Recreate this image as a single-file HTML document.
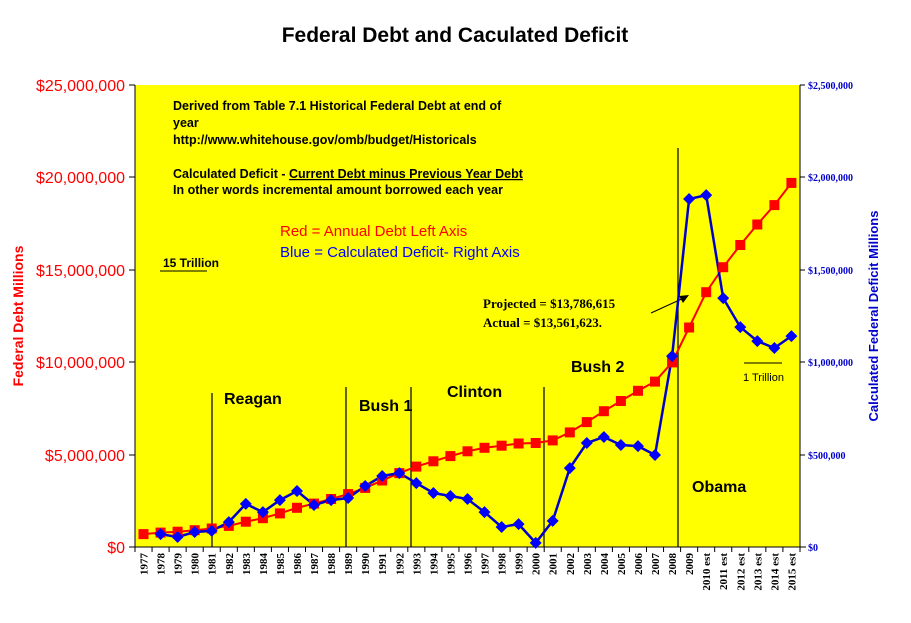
<!DOCTYPE html><html><head><meta charset="utf-8"><style>body{margin:0;background:#fff}svg{display:block}</style></head><body>
<svg width="911" height="623" xmlns="http://www.w3.org/2000/svg" xmlns:xlink="http://www.w3.org/1999/xlink" font-family="Liberation Sans, sans-serif">
<defs>
<rect id="sq" x="-5" y="-5" width="10" height="10" fill="#ff0000"/>
<polygon id="dm" points="0,-6 6,0 0,6 -6,0" fill="#0000ff"/>
</defs>
<rect width="911" height="623" fill="#fff"/>
<text x="455" y="42" text-anchor="middle" font-size="21" font-weight="bold">Federal Debt and Caculated Deficit</text>
<rect x="135" y="85" width="665" height="462" fill="#ffff00"/>
<g font-weight="bold" font-size="12.5" fill="#000">
<text x="173" y="110">Derived from Table 7.1 Historical Federal Debt at end of</text>
<text x="173" y="127">year</text>
<text x="173" y="144">http://www.whitehouse.gov/omb/budget/Historicals</text>
<text x="173" y="178">Calculated Deficit - <tspan text-decoration="underline">Current Debt minus Previous Year Debt</tspan></text>
</g>
<svg x="160" y="182" width="400" height="13"><text x="13" y="12" font-weight="bold" font-size="12.5">In other words incremental amount borrowed each year</text></svg>
<text x="280" y="236" font-size="15" fill="#ff0000">Red = Annual Debt Left Axis</text>
<text x="280" y="257" font-size="15" fill="#0000ff">Blue = Calculated Deficit- Right Axis</text>
<text x="163" y="267" font-size="12" font-weight="bold">15 Trillion</text>
<line x1="160" y1="271" x2="207" y2="271" stroke="#000"/>
<g font-family="Liberation Serif, serif" font-weight="bold" font-size="13"><text x="483" y="308">Projected = $13,786,615</text><text x="483" y="327">Actual = $13,561,623.</text></g>
<line x1="651" y1="313" x2="686" y2="297" stroke="#000"/><polygon points="689,295 679,296 683,303" fill="#000"/>
<line x1="744" y1="363" x2="782" y2="363" stroke="#000"/>
<text x="743" y="381" font-size="11">1 Trillion</text>
<g stroke="#000" stroke-width="1.2"><line x1="212" y1="393" x2="212" y2="547"/><line x1="346" y1="387" x2="346" y2="547"/><line x1="411" y1="387" x2="411" y2="547"/><line x1="544" y1="387" x2="544" y2="547"/><line x1="678" y1="148" x2="678" y2="547"/></g>
<g font-size="16" font-weight="bold"><text x="224" y="404">Reagan</text><text x="359" y="411">Bush 1</text><text x="447" y="397">Clinton</text><text x="571" y="372">Bush 2</text><text x="692" y="492">Obama</text></g>
<g stroke="#000"><line x1="135" y1="85" x2="135" y2="547"/><line x1="800" y1="85" x2="800" y2="547"/><line x1="129" y1="547" x2="806" y2="547"/>
<line x1="129" y1="85" x2="135" y2="85"/><line x1="129" y1="177" x2="135" y2="177"/><line x1="129" y1="270" x2="135" y2="270"/><line x1="129" y1="362" x2="135" y2="362"/><line x1="129" y1="455" x2="135" y2="455"/>
<line x1="800" y1="85" x2="805" y2="85"/><line x1="800" y1="177" x2="805" y2="177"/><line x1="800" y1="270" x2="805" y2="270"/><line x1="800" y1="362" x2="805" y2="362"/><line x1="800" y1="455" x2="805" y2="455"/></g>
<g font-size="16" fill="#ff0000" text-anchor="end"><text x="125" y="91">$25,000,000</text><text x="125" y="183">$20,000,000</text><text x="125" y="276">$15,000,000</text><text x="125" y="368">$10,000,000</text><text x="125" y="461">$5,000,000</text><text x="125" y="553">$0</text></g>
<g font-size="10" fill="#0000cc" font-family="Liberation Serif, serif" font-weight="bold"><text x="808" y="89">$2,500,000</text><text x="808" y="181">$2,000,000</text><text x="808" y="274">$1,500,000</text><text x="808" y="366">$1,000,000</text><text x="808" y="459">$500,000</text><text x="808" y="551">$0</text></g>
<text transform="translate(23,316) rotate(-90)" text-anchor="middle" font-size="14" font-weight="bold" fill="#ff0000">Federal Debt Millions</text>
<text transform="translate(878,316) rotate(-90)" text-anchor="middle" font-size="13" font-weight="bold" fill="#0000cc">Calculated Federal Deficit Millions</text>

<polyline fill="none" stroke="#ff0000" stroke-width="2" points="143.5,534.1 160.6,532.6 177.6,531.7 194.7,530.2 211.7,528.5 228.8,525.9 245.8,521.7 262.9,518.2 279.9,513.4 297,507.8 314,503.6 331.1,499 348.1,494.1 365.2,487.9 382.2,480.5 399.3,473.1 416.3,466.6 433.4,461.3 450.4,456.1 467.5,451.3 484.5,447.8 501.6,445.7 518.6,443.5 535.7,443 552.7,440.4 569.8,432.4 586.8,422.1 603.9,411.2 620.9,401 638,390.8 655,381.6 672.1,362.4 689.1,327.5 706.2,292.2 723.2,267.2 740.3,245 757.3,224.5 774.4,205.1 791.4,182.9"/>
<polyline fill="none" stroke="#0000cc" stroke-width="2.5" points="160.6,534.1 177.6,537 194.7,532 211.7,530.9 228.8,522.1 245.8,503.9 262.9,512.1 279.9,500.1 297,491 314,505 331.1,500.1 348.1,498 365.2,486 382.2,476 399.3,473.1 416.3,483.1 433.4,493 450.4,496 467.5,499 484.5,512.1 501.6,527 518.6,524.1 535.7,542.9 552.7,520.9 569.8,468.1 586.8,443 603.9,437 620.9,445 638,446.1 655,455 672.1,356.1 689.1,199 706.2,195.1 723.2,298.1 740.3,327.1 757.3,341.1 774.4,348 791.4,336.1"/>
<g>
<use xlink:href="#sq" x="143.5" y="534.1"/><use xlink:href="#sq" x="160.6" y="532.6"/><use xlink:href="#sq" x="177.6" y="531.7"/><use xlink:href="#sq" x="194.7" y="530.2"/><use xlink:href="#sq" x="211.7" y="528.5"/><use xlink:href="#sq" x="228.8" y="525.9"/><use xlink:href="#sq" x="245.8" y="521.7"/><use xlink:href="#sq" x="262.9" y="518.2"/><use xlink:href="#sq" x="279.9" y="513.4"/><use xlink:href="#sq" x="297" y="507.8"/><use xlink:href="#sq" x="314" y="503.6"/><use xlink:href="#sq" x="331.1" y="499"/><use xlink:href="#sq" x="348.1" y="494.1"/><use xlink:href="#sq" x="365.2" y="487.9"/><use xlink:href="#sq" x="382.2" y="480.5"/><use xlink:href="#sq" x="399.3" y="473.1"/><use xlink:href="#sq" x="416.3" y="466.6"/><use xlink:href="#sq" x="433.4" y="461.3"/><use xlink:href="#sq" x="450.4" y="456.1"/><use xlink:href="#sq" x="467.5" y="451.3"/><use xlink:href="#sq" x="484.5" y="447.8"/><use xlink:href="#sq" x="501.6" y="445.7"/><use xlink:href="#sq" x="518.6" y="443.5"/><use xlink:href="#sq" x="535.7" y="443"/><use xlink:href="#sq" x="552.7" y="440.4"/><use xlink:href="#sq" x="569.8" y="432.4"/><use xlink:href="#sq" x="586.8" y="422.1"/><use xlink:href="#sq" x="603.9" y="411.2"/><use xlink:href="#sq" x="620.9" y="401"/><use xlink:href="#sq" x="638" y="390.8"/><use xlink:href="#sq" x="655" y="381.6"/><use xlink:href="#sq" x="672.1" y="362.4"/><use xlink:href="#sq" x="689.1" y="327.5"/><use xlink:href="#sq" x="706.2" y="292.2"/><use xlink:href="#sq" x="723.2" y="267.2"/><use xlink:href="#sq" x="740.3" y="245"/><use xlink:href="#sq" x="757.3" y="224.5"/><use xlink:href="#sq" x="774.4" y="205.1"/><use xlink:href="#sq" x="791.4" y="182.9"/>
</g>
<g>
<use xlink:href="#dm" x="160.6" y="534.1"/><use xlink:href="#dm" x="177.6" y="537"/><use xlink:href="#dm" x="194.7" y="532"/><use xlink:href="#dm" x="211.7" y="530.9"/><use xlink:href="#dm" x="228.8" y="522.1"/><use xlink:href="#dm" x="245.8" y="503.9"/><use xlink:href="#dm" x="262.9" y="512.1"/><use xlink:href="#dm" x="279.9" y="500.1"/><use xlink:href="#dm" x="297" y="491"/><use xlink:href="#dm" x="314" y="505"/><use xlink:href="#dm" x="331.1" y="500.1"/><use xlink:href="#dm" x="348.1" y="498"/><use xlink:href="#dm" x="365.2" y="486"/><use xlink:href="#dm" x="382.2" y="476"/><use xlink:href="#dm" x="399.3" y="473.1"/><use xlink:href="#dm" x="416.3" y="483.1"/><use xlink:href="#dm" x="433.4" y="493"/><use xlink:href="#dm" x="450.4" y="496"/><use xlink:href="#dm" x="467.5" y="499"/><use xlink:href="#dm" x="484.5" y="512.1"/><use xlink:href="#dm" x="501.6" y="527"/><use xlink:href="#dm" x="518.6" y="524.1"/><use xlink:href="#dm" x="535.7" y="542.9"/><use xlink:href="#dm" x="552.7" y="520.9"/><use xlink:href="#dm" x="569.8" y="468.1"/><use xlink:href="#dm" x="586.8" y="443"/><use xlink:href="#dm" x="603.9" y="437"/><use xlink:href="#dm" x="620.9" y="445"/><use xlink:href="#dm" x="638" y="446.1"/><use xlink:href="#dm" x="655" y="455"/><use xlink:href="#dm" x="672.1" y="356.1"/><use xlink:href="#dm" x="689.1" y="199"/><use xlink:href="#dm" x="706.2" y="195.1"/><use xlink:href="#dm" x="723.2" y="298.1"/><use xlink:href="#dm" x="740.3" y="327.1"/><use xlink:href="#dm" x="757.3" y="341.1"/><use xlink:href="#dm" x="774.4" y="348"/><use xlink:href="#dm" x="791.4" y="336.1"/>
</g>
<path stroke="#000" d="M135,547v5M152.05,547v5M169.1,547v5M186.15,547v5M203.2,547v5M220.25,547v5M237.3,547v5M254.35,547v5M271.4,547v5M288.45,547v5M305.5,547v5M322.55,547v5M339.6,547v5M356.65,547v5M373.7,547v5M390.75,547v5M407.8,547v5M424.85,547v5M441.9,547v5M458.95,547v5M476,547v5M493.05,547v5M510.1,547v5M527.15,547v5M544.2,547v5M561.25,547v5M578.3,547v5M595.35,547v5M612.4,547v5M629.45,547v5M646.5,547v5M663.55,547v5M680.6,547v5M697.65,547v5M714.7,547v5M731.75,547v5M748.8,547v5M765.85,547v5M782.9,547v5M800,547v5"/>
<g font-family="Liberation Serif, serif" font-weight="bold" font-size="11" text-anchor="end">
<text transform="translate(147.5,553) rotate(-90)">1977</text><text transform="translate(164.6,553) rotate(-90)">1978</text><text transform="translate(181.6,553) rotate(-90)">1979</text><text transform="translate(198.7,553) rotate(-90)">1980</text><text transform="translate(215.7,553) rotate(-90)">1981</text><text transform="translate(232.8,553) rotate(-90)">1982</text><text transform="translate(249.8,553) rotate(-90)">1983</text><text transform="translate(266.9,553) rotate(-90)">1984</text><text transform="translate(283.9,553) rotate(-90)">1985</text><text transform="translate(301,553) rotate(-90)">1986</text><text transform="translate(318,553) rotate(-90)">1987</text><text transform="translate(335.1,553) rotate(-90)">1988</text><text transform="translate(352.1,553) rotate(-90)">1989</text><text transform="translate(369.2,553) rotate(-90)">1990</text><text transform="translate(386.2,553) rotate(-90)">1991</text><text transform="translate(403.3,553) rotate(-90)">1992</text><text transform="translate(420.3,553) rotate(-90)">1993</text><text transform="translate(437.4,553) rotate(-90)">1994</text><text transform="translate(454.4,553) rotate(-90)">1995</text><text transform="translate(471.5,553) rotate(-90)">1996</text><text transform="translate(488.5,553) rotate(-90)">1997</text><text transform="translate(505.6,553) rotate(-90)">1998</text><text transform="translate(522.6,553) rotate(-90)">1999</text><text transform="translate(539.7,553) rotate(-90)">2000</text><text transform="translate(556.7,553) rotate(-90)">2001</text><text transform="translate(573.8,553) rotate(-90)">2002</text><text transform="translate(590.8,553) rotate(-90)">2003</text><text transform="translate(607.9,553) rotate(-90)">2004</text><text transform="translate(624.9,553) rotate(-90)">2005</text><text transform="translate(642,553) rotate(-90)">2006</text><text transform="translate(659,553) rotate(-90)">2007</text><text transform="translate(676.1,553) rotate(-90)">2008</text><text transform="translate(693.1,553) rotate(-90)">2009</text><text transform="translate(710.2,553) rotate(-90)">2010 est</text><text transform="translate(727.2,553) rotate(-90)">2011 est</text><text transform="translate(744.3,553) rotate(-90)">2012 est</text><text transform="translate(761.3,553) rotate(-90)">2013 est</text><text transform="translate(778.4,553) rotate(-90)">2014 est</text><text transform="translate(795.4,553) rotate(-90)">2015 est</text>
</g>
</svg></body></html>
